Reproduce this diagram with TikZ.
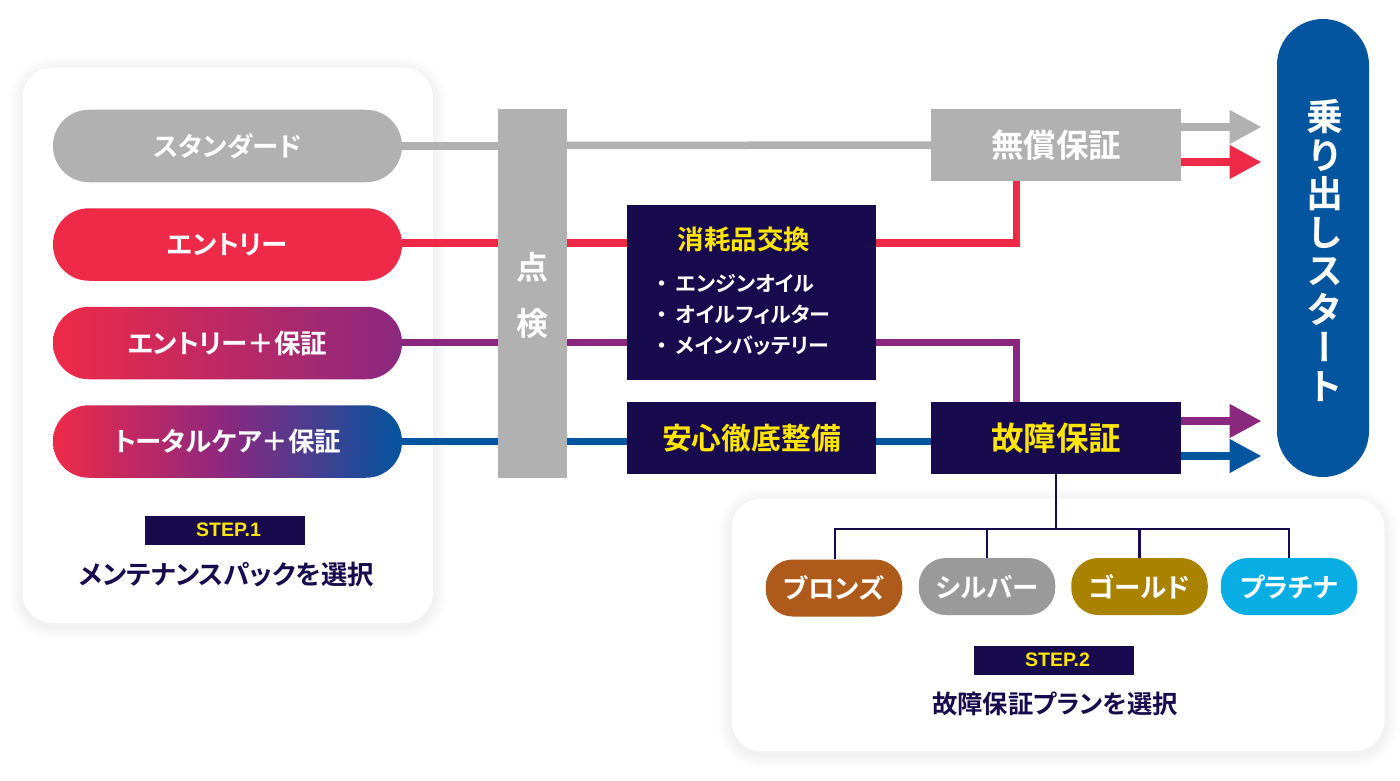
\documentclass[tikz,border=0pt]{standalone}
\usepackage{fontspec}
\newfontfamily\jp[BoldFont={Noto Sans CJK JP Bold},RawFeature={+palt}]{Noto Sans CJK JP}
\newfontfamily\jpv[BoldFont={Noto Sans CJK JP Bold},RawFeature={+vert}]{Noto Sans CJK JP}
\newfontfamily\lat{Liberation Sans}
\definecolor{cgray}{HTML}{B1B1B1}
\definecolor{cred}{HTML}{EE2A48}
\definecolor{cpur}{HTML}{8A2880}
\definecolor{cblue}{HTML}{03559F}
\definecolor{cnavy}{HTML}{170B4D}
\definecolor{cyel}{HTML}{FFE600}
\definecolor{cbronze}{HTML}{AE5A1A}
\definecolor{csilver}{HTML}{9A9A9A}
\definecolor{cgold}{HTML}{A98300}
\definecolor{cplat}{HTML}{08ADE4}
\tikzset{
  fsz/.style={font=\jp\bfseries\fontsize{#1}{#1}\selectfont},
  pill/.style={rounded corners=36pt,minimum width=349pt,minimum height=72.5pt,inner sep=0pt,text=white,fsz=26.5},
  tag/.style={rounded corners=27pt,minimum width=136.5pt,minimum height=57pt,inner sep=0pt,text=white,fsz=26.5},
  box/.style={fill=cnavy,minimum width=249.5pt,minimum height=72.5pt,inner sep=0pt},
  stepbox/.style={fill=cnavy,minimum width=160pt,minimum height=29pt,inner sep=0pt},
  steptxt/.style={text=cyel,font=\lat\bfseries\fontsize{19.5}{19.5}\selectfont,inner sep=0pt},
  capt/.style={text=cnavy,fsz=#1,inner sep=0pt},
  conn/.style={line width=7.5pt},
  tree/.style={line width=2.4pt,cnavy},
  head/.style={-{Triangle[length=32pt,width=32pt]}},
  li/.style={text=white,fsz=21,anchor=west,inner sep=0pt},
}
\usetikzlibrary{arrows.meta}
\newcommand{\softpanel}[4]{%
  \foreach \w in {2,4,...,28}{
    \draw[black,opacity=0.005,line width=\w pt,rounded corners=30pt] (#1,#2+3) rectangle (#3,#4+3);
  }
  \fill[white,rounded corners=30pt] (#1,#2) rectangle (#3,#4);
}
\begin{document}
\begin{tikzpicture}[x=1pt,y=-1pt]
\useasboundingbox (0,0) rectangle (1400,781);
\fill[white] (0,0) rectangle (1400,781);
% panels
\softpanel{22.5}{67.5}{433}{623}
\softpanel{731.5}{498.5}{1384.5}{751}
% pills
\node[pill,fill=cgray] (std) at (227.5,146) {スタンダード};
\node[pill,fill=cred] (ent) at (227.5,244.5) {エントリー};
\node[pill,left color=cred,right color=cpur] (entp) at (227.5,343) {エントリー＋保証};
\node[pill,left color=cred,right color=cblue,middle color=cpur] (tot) at (227.5,441.5) {トータルケア＋保証};
% bar
\node[fill=cgray,minimum width=69pt,minimum height=369pt,inner sep=0pt] (ten) at (532.5,293.5) {};
\node[text=white,fsz=32,inner sep=0pt] (ten1) at (532.5,267) {点};
\node[text=white,fsz=32,inner sep=0pt] (ten2) at (532.5,323) {検};
% boxes
\node[box,minimum height=175pt] (sho) at (751.5,292.5) {};
\node[text=cyel,fsz=26.5,inner sep=0pt] (shot) at (744,239) {消耗品交換};
\node[li] (l1) at (657,283) {・\hspace{8.5pt}エンジンオイル};
\node[li] (l2) at (657,314.5) {・\hspace{8.5pt}オイルフィルター};
\node[li] (l3) at (657,345.5) {・\hspace{8.5pt}メインバッテリー};
\node[box,text=cyel,fsz=29.8] (anz) at (751.5,438) {安心徹底整備};
\node[box,fill=cgray,text=white,fsz=32.5] (mu) at (1056,145) {無償保証};
\node[box,text=cyel,fsz=32.5] (ko) at (1056,438) {故障保証};
% start
\node[fill=cblue,rounded corners=46pt,minimum width=92pt,minimum height=458pt,inner sep=0pt] (go) at (1323,248) {};
\node[text=white,inner sep=0pt,align=center,font=\jpv\bfseries\fontsize{37}{38.5}\selectfont] (got) at (1325,250.5) {乗\\り\\出\\し\\ス\\タ\\ー\\ト};
% connectors
\begin{scope}[conn]
\draw[cgray] (std.east) -- (std.east -| ten.west);
\draw[cgray] ([yshift=0.5pt]std.east -| ten.east) -- (mu.west);
\draw[cred] ([yshift=1.5pt]ent.east) -- ([yshift=1.5pt]ent.east -| ten.west);
\draw[cred] ([yshift=1.5pt]ent.east -| ten.east) -- ([yshift=1.5pt]ent.east -| sho.west);
\draw[cpur] ([yshift=0.5pt]entp.east) -- ([yshift=0.5pt]entp.east -| ten.west);
\draw[cpur] ([yshift=0.5pt]entp.east -| ten.east) -- ([yshift=0.5pt]entp.east -| sho.west);
\draw[cblue] (tot.east) -- (tot.east -| ten.west);
\draw[cblue] (tot.east -| ten.east) -- (tot.east -| sho.west);
\draw[cblue] (anz.east |- tot.east) -- (ko.west |- tot.east);
\coordinate (rc) at (1016.5,243);
\draw[cred] (sho.east |- rc) -- (rc) -- (rc |- mu.south);
\coordinate (pc) at (1016.5,342.5);
\draw[cpur] (sho.east |- pc) -- (pc) -- (pc |- ko.north);
\coordinate (a1) at (1261.5,127);
\coordinate (a2) at (1261.5,162);
\coordinate (a3) at (1261.5,421);
\coordinate (a4) at (1261.5,456);
\draw[cgray,head] (mu.east |- a1) -- (a1);
\draw[cred,head] (mu.east |- a2) -- (a2);
\draw[cpur,head] (ko.east |- a3) -- (a3);
\draw[cblue,head] (ko.east |- a4) -- (a4);
\end{scope}
% tags
\node[tag,fill=cbronze] (br) at (834,588) {ブロンズ};
\node[tag,fill=csilver] (si) at (987,586.5) {シルバー};
\node[tag,fill=cgold] (gd) at (1139.5,586.5) {ゴールド};
\node[tag,fill=cplat] (pl) at (1289,586.5) {プラチナ};
\coordinate (tr) at (1056,529);
\draw[tree] (ko.south) -- (tr);
\draw[tree] (br.north -| 835,0) |- (pl.north |- tr) -- (pl.north);
\draw[tree] (si.north) -- (si.north |- tr);
\draw[tree] (gd.north) -- (gd.north |- tr);
% steps
\node[stepbox] (s1) at (225,530.5) {};
\node[steptxt] (s1t) at (228.5,530) {STEP.1};
\node[capt=26.4] (c1) at (226.5,575) {メンテナンスパックを選択};
\node[stepbox] (s2) at (1054,660.5) {};
\node[steptxt] (s2t) at (1057.5,660) {STEP.2};
\node[capt=25.3] (c2) at (1055,704) {故障保証プランを選択};
\end{tikzpicture}
\end{document}
